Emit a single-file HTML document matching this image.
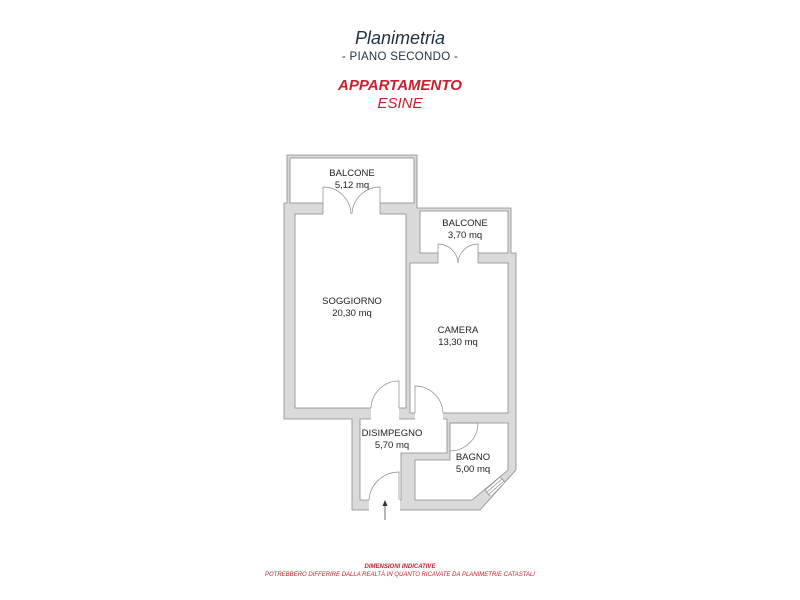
<!DOCTYPE html>
<html><head><meta charset="utf-8"><style>
body{margin:0;background:#fff;width:800px;height:600px;overflow:hidden;font-family:"Liberation Sans",sans-serif}
.t{position:absolute;width:800px;text-align:center;left:0}
</style></head><body>
<div class="t" style="top:28px;font-size:18px;font-style:italic;color:#1f3242">Planimetria</div>
<div class="t" style="top:51px;font-size:11.5px;color:#1f3242;letter-spacing:0.3px">- PIANO SECONDO -</div>
<div class="t" style="top:77px;font-size:15px;font-weight:bold;font-style:italic;color:#c8202f">APPARTAMENTO</div>
<div class="t" style="top:95px;font-size:15px;font-style:italic;color:#c8202f">ESINE</div>
<svg width="800" height="600" style="position:absolute;left:0;top:0" font-family="Liberation Sans, sans-serif">
<g stroke="#8a8a8a" stroke-width="0.8">
<polygon fill="#dadada" points="284,203 287,203 287,155 417,155 417,208 511,208 511,253 516,253 516,470 480,510 352,510 352,419 284,419"/>
<g fill="#fff">
<rect x="290" y="158" width="124" height="45"/>
<rect x="420" y="211" width="88" height="42"/>
<rect x="295" y="214" width="111" height="194"/>
<rect x="410" y="263" width="98" height="150"/>
<polygon points="360,419 447,419 447,453 401,453 401,500 360,500"/>
<polygon points="415,460 450,460 450,423 508,423 508,470 472,500 415,500"/>
</g>
</g>
<g fill="#fff" stroke="none">
<rect x="323" y="202" width="57" height="13"/>
<rect x="438" y="252" width="40" height="12"/>
<rect x="371" y="407" width="28" height="13"/>
<rect x="415" y="412" width="28" height="8"/>
<rect x="369" y="499" width="31" height="12"/>
<polygon points="500,477 485,490 490,496 505,482"/>
</g>
<g fill="none" stroke="#8a8a8a" stroke-width="0.7">
<path d="M323,214 L323,187 A28,28 0 0 1 351,214"/>
<path d="M380,214 L380,187 A28,28 0 0 0 352,214"/>
<path d="M438,263 L438,244 A20,20 0 0 1 458,263"/>
<path d="M478,263 L478,244 A20,20 0 0 0 458,263"/>
<path d="M399,408 L399,381 A28,28 0 0 0 371,408"/>
<path d="M415,413 L415,386 A28,28 0 0 1 443,413"/>
<path d="M450,423 L478,423 A28,28 0 0 1 450,451"/>
<path d="M399,500 L399,472 A30,30 0 0 0 369,500"/>
<line x1="500" y1="477" x2="485" y2="490"/><line x1="502" y1="479" x2="487" y2="492"/>
<line x1="504" y1="481" x2="489" y2="494"/>
<line x1="500" y1="477" x2="505" y2="482"/><line x1="485" y1="490" x2="490" y2="496"/>
<line x1="385" y1="520" x2="385" y2="504" stroke="#333"/>
</g>
<polygon points="385,500 382.5,506 387.5,506" fill="#333"/>
<g font-size="9.5" fill="#222" text-anchor="middle">
<text x="352" y="176">BALCONE</text><text x="352" y="188">5,12 mq</text>
<text x="465" y="226">BALCONE</text><text x="465" y="238">3,70 mq</text>
<text x="352" y="304">SOGGIORNO</text><text x="352" y="316">20,30 mq</text>
<text x="458" y="333">CAMERA</text><text x="458" y="345">13,30 mq</text>
<text x="392" y="436">DISIMPEGNO</text><text x="392" y="448">5,70 mq</text>
<text x="473" y="460">BAGNO</text><text x="473" y="472">5,00 mq</text>
</g>
<g font-size="6" fill="#c8202f" font-style="italic" text-anchor="middle">
<text x="400" y="568" font-weight="bold">DIMENSIONI INDICATIVE</text>
<text x="400" y="576">POTREBBERO DIFFERIRE DALLA REALTÀ IN QUANTO RICAVATE DA PLANIMETRIE CATASTALI</text>
</g>
</svg>
</body></html>
